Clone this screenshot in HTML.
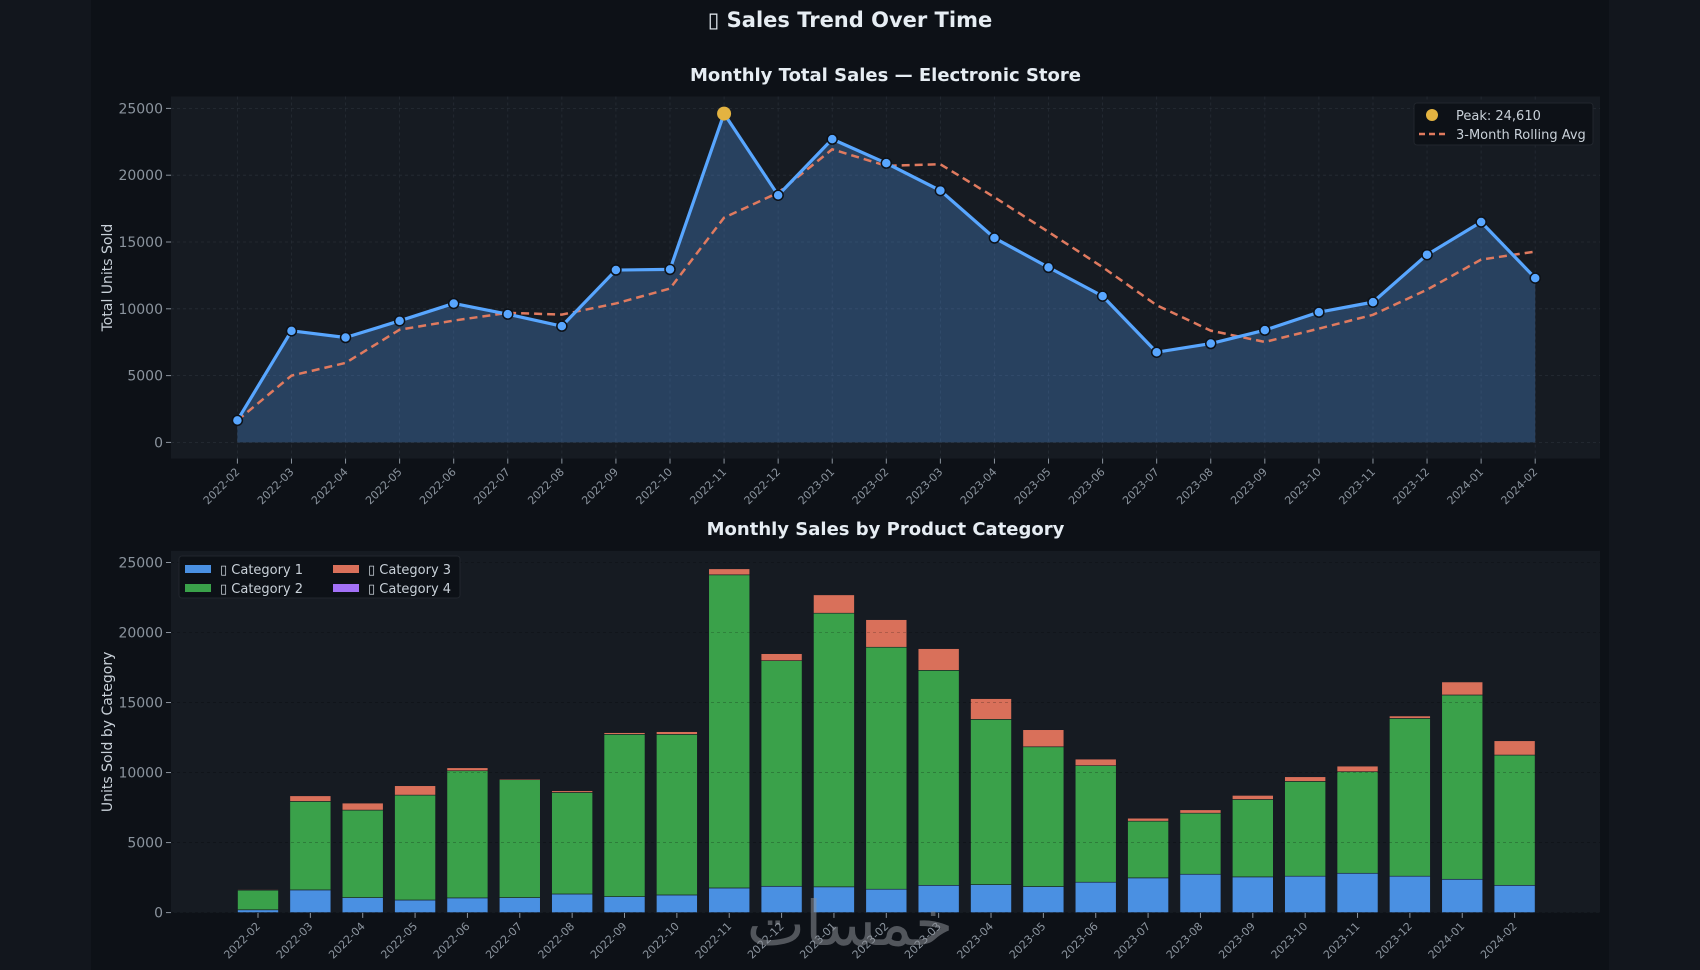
<!DOCTYPE html>
<html><head><meta charset="utf-8"><style>
html,body{margin:0;padding:0;background:#12161d;}
svg{display:block;font-family:"DejaVu Sans","Liberation Sans",sans-serif;}
</style></head><body>
<svg id="fig" width="1700" height="970" viewBox="0 0 1700 970">
<rect x="0" y="0" width="1700" height="970" fill="#12161d"/>
<rect x="91" y="0" width="1518" height="970" fill="#0d1117"/>
<text x="850" y="27" text-anchor="middle" font-size="21" font-weight="bold" fill="#e6edf3">▯ Sales Trend Over Time</text>
<g id="topChart"></g>
<g id="botChart"></g>
<text x="850" y="945" text-anchor="middle" font-size="62" fill="#8b8f96" opacity="0.55" font-family="DejaVu Sans, sans-serif">خمسات</text>
</svg>
<script>
const months = ["2022-02","2022-03","2022-04","2022-05","2022-06","2022-07","2022-08","2022-09","2022-10","2022-11","2022-12","2023-01","2023-02","2023-03","2023-04","2023-05","2023-06","2023-07","2023-08","2023-09","2023-10","2023-11","2023-12","2024-01","2024-02"];
const totals = [1650,8350,7850,9100,10400,9600,8700,12900,12950,24610,18500,22700,20900,18850,15300,13100,10950,6750,7400,8400,9750,10500,14050,16500,12300];
const cat1 = [200,1620,1070,900,1050,1070,1330,1140,1260,1760,1880,1840,1670,1950,2000,1860,2170,2480,2740,2550,2600,2810,2600,2380,1950];
const cat2 = [1400,6320,6250,7490,9080,8420,7250,11590,11470,22360,16110,19540,17280,15350,11800,9980,8320,4050,4360,5530,6770,7250,11270,13160,9300];
const cat3 = [50,400,500,670,210,70,120,120,190,430,500,1310,1970,1550,1480,1220,470,210,240,290,330,400,170,930,1020];
const cat4 = [0,0,0,0,0,0,0,0,0,0,0,0,0,0,0,0,0,0,0,0,0,0,0,0,0];
const yTicks = [0,5000,10000,15000,20000,25000];

const NS="http://www.w3.org/2000/svg";
function mk(parent,tag,attrs,text){const e=document.createElementNS(NS,tag);for(const k in attrs)e.setAttribute(k,attrs[k]);if(text!==undefined)e.textContent=text;parent.appendChild(e);return e;}

const rolling = totals.map((v,i)=>{const s=totals.slice(Math.max(0,i-2),i+1);return s.reduce((a,b)=>a+b,0)/s.length;});

// ---------- TOP CHART ----------
const topG=document.getElementById('topChart');
const T={l:171,r:1600,t:96.5,b:458.6};
const tx=i=>237.4+i*(1535.2-237.4)/(months.length-1);
const ty=v=>442.4-v*(442.4-108.4)/25000;
let e=mk(topG,'rect',{x:T.l,y:T.t,width:T.r-T.l,height:T.b-T.t,fill:'#161b22'});


months.forEach((m,i)=>{
  e=mk(topG,'line',{x1:tx(i),x2:tx(i),y1:T.t,y2:T.b,stroke:'#262c35','stroke-width':0.8,'stroke-dasharray':'3,3'});
  
  
  mk(topG,'line',{x1:tx(i),x2:tx(i),y1:T.b,y2:T.b+5,stroke:'#8b949e'});
  e=mk(topG,'text',{x:tx(i)+3,y:T.b+14,'text-anchor':'end','font-size':11,fill:'#8b949e',transform:`rotate(-45 ${tx(i)+3} ${T.b+14})`},m);
  
  
});
yTicks.forEach(v=>{
  e=mk(topG,'line',{x1:T.l,x2:T.r,y1:ty(v),y2:ty(v),stroke:'#262c35','stroke-width':0.8,'stroke-dasharray':'3,3'});
  
  
  mk(topG,'line',{x1:T.l-5,x2:T.l,y1:ty(v),y2:ty(v),stroke:'#8b949e'});
  e=mk(topG,'text',{x:T.l-8,y:ty(v)+5,'text-anchor':'end','font-size':14,fill:'#8b949e'},String(v));
  
  
});
let area=`M${tx(0)},${ty(0)} `+totals.map((v,i)=>`L${tx(i)},${ty(v)}`).join(' ')+` L${tx(totals.length-1)},${ty(0)} Z`;
e=mk(topG,'path',{d:area,fill:'#58a6ff','fill-opacity':0.28});


e=mk(topG,'path',{d:rolling.map((v,i)=>(i?'L':'M')+tx(i)+','+ty(v)).join(' '),fill:'none',stroke:'#e07a5f','stroke-width':2.5,'stroke-dasharray':'8,5'});


e=mk(topG,'path',{d:totals.map((v,i)=>(i?'L':'M')+tx(i)+','+ty(v)).join(' '),fill:'none',stroke:'#58a6ff','stroke-width':3.2,'stroke-linejoin':'round'});


let peak=0;totals.forEach((v,i)=>{if(v>totals[peak])peak=i;});
totals.forEach((v,i)=>{
  if(i===peak)return;
  e=mk(topG,'circle',{cx:tx(i),cy:ty(v),r:5,fill:'#58a6ff',stroke:'#0d1117','stroke-width':1.5});
  
  
});
e=mk(topG,'circle',{cx:tx(peak),cy:ty(totals[peak]),r:7,fill:'#e3b341'});


e=mk(topG,'text',{x:(T.l+T.r)/2,y:81,'text-anchor':'middle','font-size':18,'font-weight':'bold',fill:'#e6edf3'},'Monthly Total Sales — Electronic Store');


e=mk(topG,'text',{x:112,y:(T.t+T.b)/2,'text-anchor':'middle','font-size':14,fill:'#c9d1d9',transform:`rotate(-90 112 ${(T.t+T.b)/2})`},'Total Units Sold');


const lg=mk(topG,'g',{});


mk(lg,'rect',{x:1414,y:103,width:179,height:42,rx:3,fill:'#0d1117',stroke:'#21262d'});
mk(lg,'circle',{cx:1432,cy:115,r:6,fill:'#e3b341'});
e=mk(lg,'text',{x:1456,y:120,'font-size':13,fill:'#c9d1d9'},'Peak: '+totals[peak].toLocaleString('en-US'));


mk(lg,'line',{x1:1419,x2:1445,y1:134,y2:134,stroke:'#e07a5f','stroke-width':2.5,'stroke-dasharray':'6,4'});
e=mk(lg,'text',{x:1456,y:139,'font-size':13,fill:'#c9d1d9'},'3-Month Rolling Avg');



// ---------- BOTTOM CHART ----------
const botG=document.getElementById('botChart');
const B={l:171,r:1600,t:550.8,b:912.9};
const bx=i=>258+i*(1514.6-258)/(months.length-1);
const by=v=>912.6-v*(912.6-562.5)/25000;
const bw=41;
e=mk(botG,'rect',{x:B.l,y:B.t,width:B.r-B.l,height:B.b-B.t,fill:'#161b22'});


yTicks.forEach(v=>{
  mk(botG,'line',{x1:B.l-5,x2:B.l,y1:by(v),y2:by(v),stroke:'#8b949e'});
  e=mk(botG,'text',{x:B.l-8,y:by(v)+5,'text-anchor':'end','font-size':14,fill:'#8b949e'},String(v));
  
  
});
const series=[[cat1,'#4a90e2','category-1'],[cat2,'#3aa14a','category-2'],[cat3,'#d9705a','category-3'],[cat4,'#a371f7','category-4']];
months.forEach((m,i)=>{
  let base=0;
  series.forEach(([arr,col,nm])=>{
    const v=arr[i];if(v<=0)return;
    e=mk(botG,'rect',{x:bx(i)-bw/2,y:by(base+v),width:bw,height:by(base)-by(base+v),fill:col,stroke:'#161b22','stroke-width':0.6});
    
    
    base+=v;
  });
  mk(botG,'line',{x1:bx(i),x2:bx(i),y1:B.b,y2:B.b+5,stroke:'#8b949e'});
  e=mk(botG,'text',{x:bx(i)+3,y:B.b+14,'text-anchor':'end','font-size':11,fill:'#8b949e',transform:`rotate(-45 ${bx(i)+3} ${B.b+14})`},m);
  
  
});
yTicks.forEach(v=>{
  e=mk(botG,'line',{x1:B.l,x2:B.r,y1:by(v),y2:by(v),stroke:'#000','stroke-opacity':0.25,'stroke-width':0.8,'stroke-dasharray':'3,3'});
  
  
});
e=mk(botG,'text',{x:(B.l+B.r)/2,y:535,'text-anchor':'middle','font-size':18,'font-weight':'bold',fill:'#e6edf3'},'Monthly Sales by Product Category');


e=mk(botG,'text',{x:112,y:(B.t+B.b)/2,'text-anchor':'middle','font-size':14,fill:'#c9d1d9',transform:`rotate(-90 112 ${(B.t+B.b)/2})`},'Units Sold by Category');


const lb=mk(botG,'g',{});


mk(lb,'rect',{x:179,y:556,width:281,height:42,rx:3,fill:'#0d1117',stroke:'#21262d'});
const lpos=[[185,562],[185,581],[333,562],[333,581]];
series.forEach(([arr,col,nm],k)=>{
  const [x,y]=lpos[k];
  mk(lb,'rect',{x:x,y:y+3,width:26,height:8,fill:col});
  e=mk(lb,'text',{x:x+35,y:y+12,'font-size':13,fill:'#c9d1d9'},'▯ Category '+(k+1));
  
  
});
</script>
</body></html>
